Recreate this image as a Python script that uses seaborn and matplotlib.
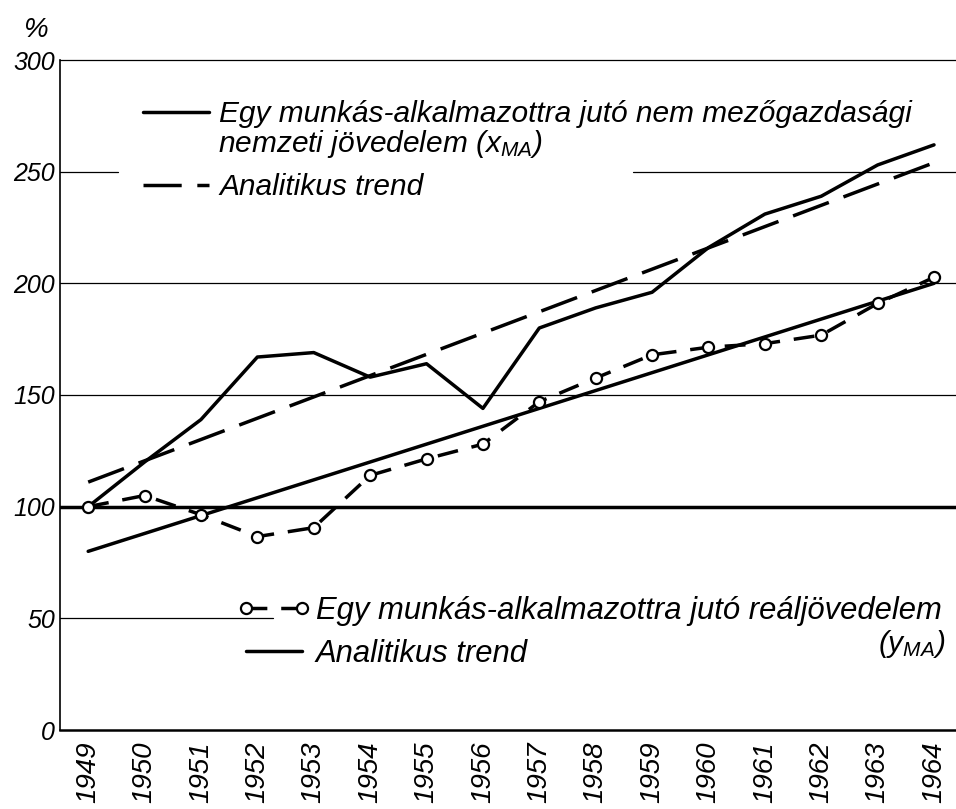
import matplotlib
matplotlib.use("Agg")
import matplotlib.pyplot as plt
import seaborn as sns
from matplotlib.lines import Line2D

# ---------------- data ----------------
years = list(range(1949, 1965))
x_ma = [100, 120, 139, 167, 169, 158, 164, 144, 180, 189, 196, 216, 231, 239, 253, 262]
x_ma_trend_years = [1949, 1964]
x_ma_trend = [111, 254]
y_ma = [100, 105, 96.4, 86.6, 90.6, 114, 121.4, 128, 147, 157.6, 168, 171.4, 173, 176.8, 191, 202.7]
y_ma_trend_years = [1949, 1964]
y_ma_trend = [80, 200]
y_ticks = [0, 50, 100, 150, 200, 250, 300]
year_labels = [str(y) for y in years]

label_x1 = "Egy munkás-alkalmazottra jutó nem mezőgazdasági"
label_x2 = r"nemzeti jövedelem ($x_{MA}$)"
label_trend = "Analitikus trend"
label_y1 = "Egy munkás-alkalmazottra jutó reáljövedelem"
label_y2 = r"($y_{MA}$)"

# ---------------- style ----------------
sns.set_theme(style="white", rc={
    "axes.edgecolor": "black", "text.color": "black",
    "xtick.color": "black", "ytick.color": "black",
    "axes.labelcolor": "black",
})
plt.rcParams['font.family'] = ['Liberation Sans', 'DejaVu Sans']
plt.rcParams['font.style'] = 'italic'
plt.rcParams['mathtext.fontset'] = 'custom'
plt.rcParams['mathtext.it'] = 'Liberation Sans:italic'
plt.rcParams['mathtext.rm'] = 'Liberation Sans:italic'

LW = 2.5
DASH_X = (0, (11, 4.5))
DASH_Y = (0, (6, 4))

fig = plt.figure(figsize=(9.56, 8.09), dpi=100)
ax = fig.add_axes([60 / 956, 79 / 809, 896 / 956, 670 / 809])

# ---------------- lines ----------------
sns.lineplot(x=years, y=x_ma, ax=ax, color='black', lw=LW, zorder=4)
sns.lineplot(x=x_ma_trend_years, y=x_ma_trend, ax=ax, color='black', lw=LW,
             linestyle=DASH_X, zorder=3)
sns.lineplot(x=y_ma_trend_years, y=y_ma_trend, ax=ax, color='black', lw=LW, zorder=3)
sns.lineplot(x=years, y=y_ma, ax=ax, color='black', lw=LW, linestyle=DASH_Y,
             marker='o', markersize=8, markerfacecolor='white',
             markeredgecolor='black', markeredgewidth=1.6, zorder=5)

# ---------------- grid lines ----------------
ax.axhline(100, color='black', lw=LW, zorder=2)
for g in [150, 200]:
    ax.axhline(g, color='black', lw=0.9, zorder=1)
ax.axhline(250, xmin=0, xmax=0.065, color='black', lw=0.9, zorder=1)
ax.axhline(250, xmin=0.64, xmax=1, color='black', lw=0.9, zorder=1)
ax.axhline(50, xmin=0, xmax=0.238, color='black', lw=0.9, zorder=1)

# ---------------- axes ----------------
ax.set_xlim(1948.5, 1964.39)
ax.set_ylim(0, 300)
ax.set_yticks(y_ticks)
ax.set_yticklabels([str(v) for v in y_ticks])
ax.set_xticks(years)
ax.set_xticklabels(year_labels, rotation=90)
ax.set_xticks([y - 0.5 for y in years], minor=True)
ax.tick_params(axis='x', which='major', length=0, pad=8.6, labelsize=20)
ax.tick_params(axis='x', which='minor', length=16.5, width=1.2, direction='out')
ax.tick_params(axis='y', which='both', length=0, pad=3.6, labelsize=18)
ax.set_xlabel("")
ax.set_ylabel("")
ax.spines['right'].set_visible(False)
ax.spines['top'].set_linewidth(0.9)
ax.spines['left'].set_linewidth(1.2)
ax.spines['bottom'].set_linewidth(1.8)

ax.text(-0.028, 1.045, "%", transform=ax.transAxes, ha='center', va='center', fontsize=20)

# ---------------- legends ----------------
FS = 21.5
leg1 = ax.legend(
    handles=[Line2D([], [], color='black', lw=LW),
             Line2D([], [], color='black', lw=LW, linestyle=DASH_X)],
    labels=[label_x1, label_trend],
    loc='upper left', bbox_to_anchor=(0.0926, 0.940), frameon=False,
    fontsize=FS, handlelength=2.2, handletextpad=0.35, borderpad=0,
    borderaxespad=0, labelspacing=1.5, numpoints=1)
ax.add_artist(leg1)
ax.text(0.1763, 0.8625, label_x2, transform=ax.transAxes, ha='left', va='baseline', fontsize=FS)

FS2 = 22.3
leg2 = ax.legend(
    handles=[Line2D([], [], color='black', lw=LW, linestyle=DASH_Y, marker='o',
                    markersize=8, markerfacecolor='white', markeredgecolor='black',
                    markeredgewidth=1.6),
             Line2D([], [], color='black', lw=LW)],
    labels=[label_y1, label_trend],
    loc='upper left', bbox_to_anchor=(0.1975, 0.20), frameon=False,
    fontsize=FS2, handlelength=2.4, handletextpad=0.15, borderpad=0,
    borderaxespad=0, labelspacing=0.42, numpoints=2)
ax.text(0.9877, 0.1164, label_y2, transform=ax.transAxes, ha='right', va='baseline', fontsize=FS)

fig.savefig("out.png", dpi=100)
